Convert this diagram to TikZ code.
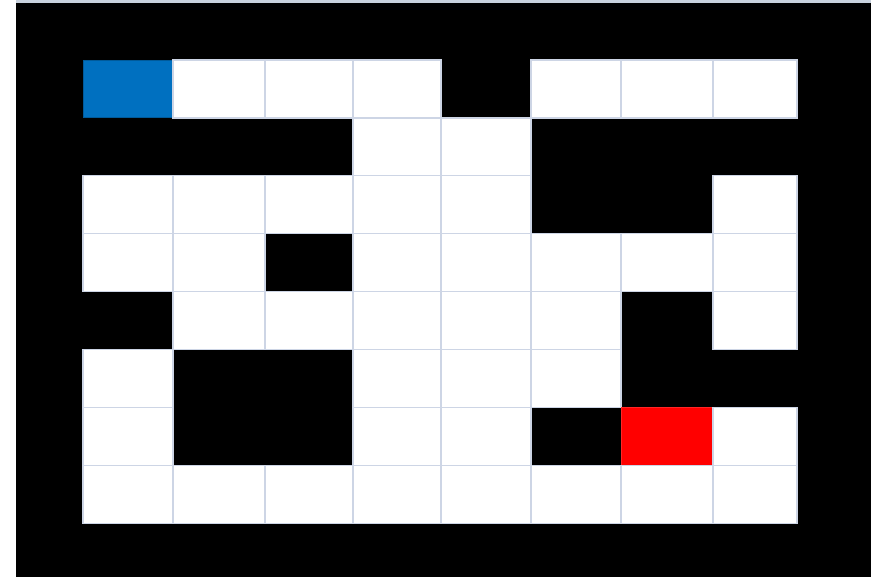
\documentclass[tikz,border=0pt]{standalone}
\usepackage{tikz}
\definecolor{startcell}{HTML}{0070C0}
\definecolor{goalcell}{HTML}{FF0000}
\definecolor{gridline}{HTML}{CDD5E5}
\definecolor{topband}{HTML}{C9D2DE}

\begin{document}
\begin{tikzpicture}[
  x=0.75pt,y=-0.75pt,
  opencell/.style={fill=white,draw=gridline,line width=1pt},
  startsq/.style={fill=startcell,draw=startcell!80!black,line width=0.6pt},
  goalsq/.style={fill=goalcell,draw=goalcell!85!white,line width=0.6pt}
]
\useasboundingbox (0,0) rectangle (871,577);
\fill[white] (0,0) rectangle (871,577);
\fill[black] (16,3) rectangle (871,577);
\fill[topband] (16,0) rectangle (871,3);

% maze: 0 wall, 1 open, 2 start, 3 goal
\def\ch{57.9}
\foreach \row [count=\r from 0] in {
  {2,1,1,1,0,1,1,1},
  {0,0,0,1,1,0,0,0},
  {1,1,1,1,1,0,0,1},
  {1,1,0,1,1,1,1,1},
  {0,1,1,1,1,1,0,1},
  {1,0,0,1,1,1,0,0},
  {1,0,0,1,1,0,3,1},
  {1,1,1,1,1,1,1,1}} {
  \foreach \c [count=\k from 0] in \row {
    \pgfmathsetmacro{\xa}{{83,173,265,353,441,531,621,713,797}[\k]}
    \pgfmathsetmacro{\xb}{{83,173,265,353,441,531,621,713,797}[\k+1]}
    \pgfmathsetmacro{\ya}{60+\r*\ch}
    \pgfmathsetmacro{\yb}{60+(\r+1)*\ch}
    \ifcase\c
    \or \path[opencell] (\xa,\ya) rectangle (\xb,\yb);
    \or \path[startsq] (\xa,\ya) rectangle (\xb,\yb);
    \or \path[goalsq] (\xa,\ya) rectangle (\xb,\yb);
    \fi
  }
}
\end{tikzpicture}
\end{document}
